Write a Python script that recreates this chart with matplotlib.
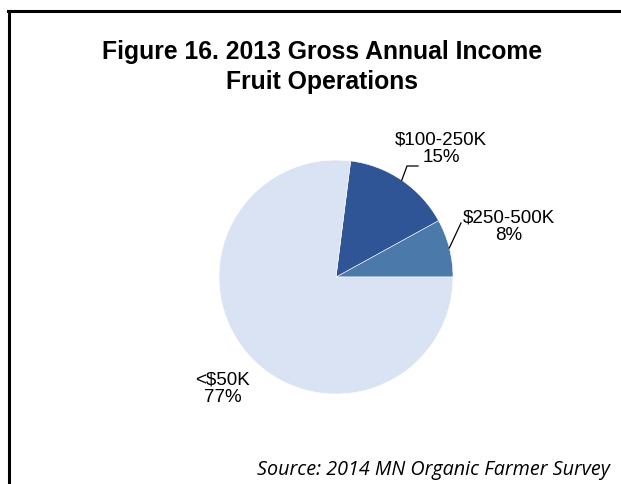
import matplotlib
matplotlib.use('Agg')
import matplotlib.pyplot as plt
import numpy as np
from matplotlib.lines import Line2D

# data, counterclockwise from 3 o'clock
categories = ['$250-500K', '$100-250K', '<$50K']
shares = [8, 15, 77]
colors = ['#4A79AA', '#2F5597', '#DAE3F3']

W, H = 621, 484
fig = plt.figure(figsize=(W / 100, H / 100), dpi=100)

# pie centre / radius in pixels
cx, cy, r = 336, 277, 117
ax = fig.add_axes([(cx - r) / W, (H - cy - r) / H, 2 * r / W, 2 * r / H])
wedges, _ = ax.pie(shares, colors=colors, startangle=0, counterclock=True,
                   radius=1, wedgeprops=dict(edgecolor='white', linewidth=0.4))
ax.set_xlim(-1, 1)
ax.set_ylim(-1, 1)
ax.axis('off')

def px(x, y):
    return (x - cx) / r, (cy - y) / r

# label positions (pixel centres of the two-line blocks)
label_pos = {'$250-500K': (509, 227), '$100-250K': (441, 149), '<$50K': (223, 389)}
for w, cat, val in zip(wedges, categories, shares):
    lx, ly = px(*label_pos[cat])
    ax.text(lx, ly, f'{cat}\n{val}%', ha='center', va='center', fontsize=13.5,
            family='Liberation Sans', linespacing=1.05, clip_on=False)

# leader lines
ang = np.deg2rad((wedges[1].theta1 + wedges[1].theta2) / 2)
x0, y0 = np.cos(ang), np.sin(ang)
(x1, y1), (x2, y2) = px(407, 166), px(418, 166)
ax.add_line(Line2D([x0, x1, x2], [y0, y1, y2], color='black', lw=0.9, clip_on=False))
ang = np.deg2rad((wedges[0].theta1 + wedges[0].theta2) / 2)
x0, y0 = np.cos(ang), np.sin(ang)
x1, y1 = px(461, 223)
ax.add_line(Line2D([x0, x1], [y0, y1], color='black', lw=0.9, clip_on=False))

fig.text(322 / W, 1 - 67 / H, 'Figure 16. 2013 Gross Annual Income\nFruit Operations',
         ha='center', va='center', fontsize=17.8, fontweight='bold',
         family='Liberation Sans', linespacing=1.3)
fig.text(610 / W, 1 - 470 / H, 'Source: 2014 MN Organic Farmer Survey',
         ha='right', va='center', fontsize=14.2, style='italic', family='Open Sans')

# frame (left and top edges visible)
fig.add_artist(Line2D([8.5 / W, 8.5 / W], [0, 1 - 10.5 / H], color='black', lw=2.2,
                      transform=fig.transFigure))
fig.add_artist(Line2D([7.5 / W, 1], [1 - 10.5 / H, 1 - 10.5 / H], color='black', lw=2.2,
                      transform=fig.transFigure))

fig.savefig('out.png', dpi=100)
